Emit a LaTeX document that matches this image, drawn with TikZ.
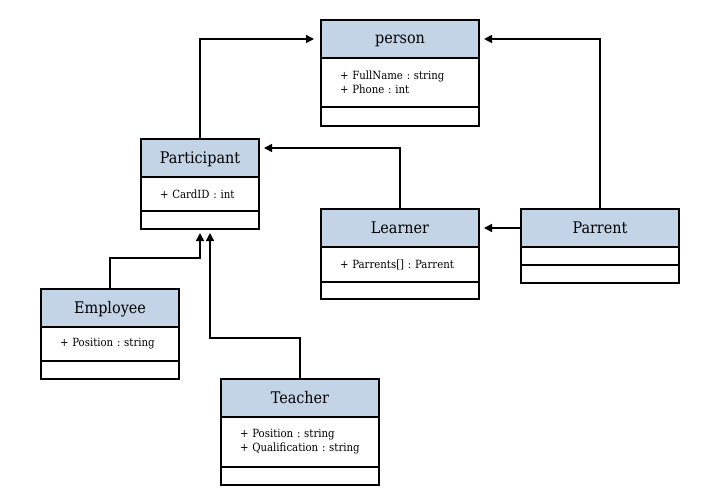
\documentclass[tikz,border=0pt]{standalone}
\usepackage{fontspec}
\setmainfont{DejaVu Serif Condensed}
\usetikzlibrary{arrows.meta,calc}
\definecolor{hdrblue}{RGB}{194,212,230}
\tikzset{
  box/.style={draw=black, line width=1.6pt, outer sep=0pt},
  hdr/.style={box, fill=hdrblue, anchor=north west, minimum height=38pt, inner sep=0pt, text height=12pt, text depth=2pt, font=\fontsize{16}{18}\selectfont},
  attr/.style={box, fill=white, anchor=north, inner xsep=19pt, inner ysep=0pt, align=left, font=\fontsize{11.3}{14}\selectfont\frenchspacing},
  ops/.style={box, fill=white, anchor=north, inner sep=0pt, minimum height=18pt},
  conn/.style={line width=1.6pt, -{Triangle[length=8pt,width=8pt]}, shorten >=5pt}
}
\begin{document}
\begin{tikzpicture}[x=1pt,y=-1pt]
\useasboundingbox (0,0) rectangle (720,495);
% person
\node[hdr, minimum width=158pt] (person) at (321,20) {person};
\node[attr, text width=120pt, minimum height=49pt] (personA) at (person.south) {+ FullName : string\\+ Phone : int};
\node[ops, minimum width=158pt, minimum height=19pt] (personO) at (personA.south) {};
% Participant
\node[hdr, minimum width=118pt] (part) at (141,139) {Participant};
\node[attr, text width=80pt, minimum height=34pt] (partA) at (part.south) {+ CardID : int};
\node[ops, minimum width=118pt] (partO) at (partA.south) {};
% Learner
\node[hdr, minimum width=158pt] (learn) at (321,209) {Learner};
\node[attr, text width=120pt, minimum height=35pt] (learnA) at (learn.south) {+ Parrents[] : Parrent};
\node[ops, minimum width=158pt, minimum height=17pt] (learnO) at (learnA.south) {};
% Parrent
\node[hdr, minimum width=158pt] (par) at (521,209) {Parrent};
\node[ops, minimum width=158pt] (parA) at (par.south) {};
\node[ops, minimum width=158pt] (parO) at (parA.south) {};
% Employee
\node[hdr, minimum width=138pt] (emp) at (41,289) {Employee};
\node[attr, text width=100pt, minimum height=34pt] (empA) at (emp.south) {+ Position : string};
\node[ops, minimum width=138pt] (empO) at (empA.south) {};
% Teacher
\node[hdr, minimum width=158pt] (teach) at (221,379) {Teacher};
\node[attr, text width=120pt, minimum height=50pt] (teachA) at (teach.south) {+ Position : string\\+ Qualification : string};
\node[ops, minimum width=158pt] (teachO) at (teachA.south) {};
% connectors
\draw[conn, shorten >=7pt] (part.north) |- (person.west);
\draw[conn] (par.north) |- (person.east);
\coordinate (lBend) at (400,148);
\draw[conn] (learn.north) -- (lBend) -- (lBend -| part.east);
\draw[conn] (par.west) -- (learn.east);
\coordinate (eBend) at (200,258);
\draw[conn, shorten >=4pt] (emp.north) |- (eBend) -- (partO.south);
\coordinate (tEnd) at ($(partO.south)+(10,0)$);
\coordinate (tBend) at (210,338);
\draw[conn, shorten >=4pt] (teach.north) |- (tBend) -- (tEnd);
\end{tikzpicture}
\end{document}
